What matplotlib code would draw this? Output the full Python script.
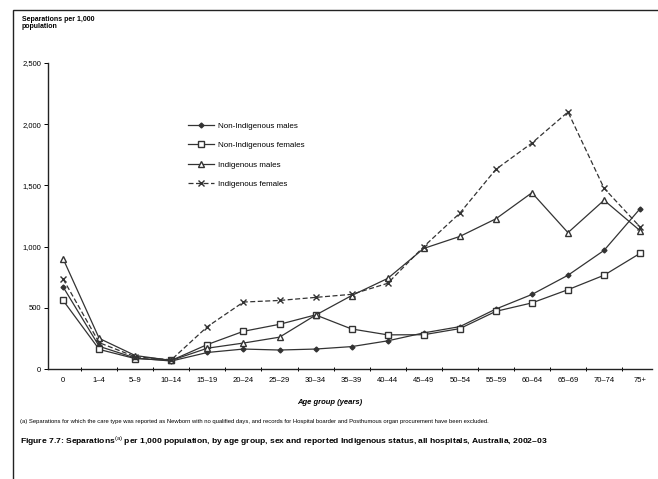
import matplotlib
matplotlib.use("Agg")
import matplotlib.pyplot as plt
from matplotlib.patches import Rectangle

plt.rcParams['font.family'] = ['Liberation Sans', 'DejaVu Sans']
plt.rcParams['mathtext.fontset'] = 'custom'
plt.rcParams['mathtext.rm'] = 'Liberation Sans'

# Age groups and separations per 1,000 population
age_groups = ['0', '1–4', '5–9', '10–14', '15–19', '20–24', '25–29', '30–34', '35–39',
              '40–44', '45–49', '50–54', '55–59', '60–64', '65–69', '70–74', '75+']

non_ind_males = [670, 185, 90, 65, 135, 163, 155, 163, 183, 230, 295, 346, 490, 609, 766, 969, 1310]
non_ind_females = [560, 160, 85, 70, 200, 308, 365, 442, 327, 279, 280, 330, 471, 540, 648, 766, 945]
ind_males = [900, 250, 110, 70, 170, 212, 260, 440, 600, 740, 985, 1083, 1227, 1440, 1114, 1379, 1130]
ind_females = [735, 215, 100, 75, 346, 547, 560, 585, 610, 700, 1000, 1273, 1631, 1846, 2100, 1477, 1160]

y_ticks = [0, 500, 1000, 1500, 2000, 2500]
y_tick_labels = ['0', '500', '1,000', '1,500', '2,000', '2,500']

W, H = 658, 479
fig = plt.figure(figsize=(W / 100, H / 100), dpi=100)

# outer frame of the scanned page
fig.patches.append(Rectangle((13 / W, -0.1), 1.2, 1 - 10 / H + 0.1, transform=fig.transFigure,
                             fill=False, edgecolor='#222222', linewidth=1.0))

ax = fig.add_axes([48 / W, (H - 369) / H, (652 - 48) / W, (369 - 63) / H])
x = list(range(len(age_groups)))
lc = '#333333'

ax.plot(x, non_ind_males, color=lc, linewidth=0.9, marker='D', markersize=2.5,
        markerfacecolor=lc, label='Non-Indigenous males')
ax.plot(x, non_ind_females, color=lc, linewidth=0.9, marker='s', markersize=4,
        markerfacecolor='white', label='Non-Indigenous females')
ax.plot(x, ind_males, color=lc, linewidth=0.9, marker='^', markersize=4,
        markerfacecolor='white', label='Indigenous males')
ax.plot(x, ind_females, color=lc, linewidth=0.9, linestyle=(0, (4, 2)), marker='x',
        markersize=4, label='Indigenous females')

ax.set_xlim(-0.42, 16.33)
ax.set_ylim(0, 2500)
ax.set_xticks(x)
ax.set_xticklabels(age_groups, fontsize=5.5)
ax.set_xticks([i + 0.5 for i in x[:-1]], minor=True)
ax.tick_params(axis='x', which='major', length=0, pad=6)
ax.tick_params(axis='x', which='minor', length=3, direction='inout', width=0.7)
ax.set_yticks(y_ticks)
ax.set_yticklabels(y_tick_labels, fontsize=5.5)
ax.tick_params(axis='y', length=3, width=0.7, pad=2)

for s in ['top', 'right']:
    ax.spines[s].set_visible(False)
for s in ['left', 'bottom']:
    ax.spines[s].set_linewidth(1.0)
    ax.spines[s].set_color('#222222')

ax.legend(loc='upper left', bbox_to_anchor=(0.22, 0.83), frameon=False, fontsize=5.8,
          handlelength=3.2, labelspacing=1.45, handletextpad=0.5)

fig.text(22 / W, 1 - 16 / H, 'Separations per 1,000\npopulation', fontsize=5, fontweight='bold',
         va='top', ha='left', linespacing=1.0)
fig.text(330 / W, 1 - 402 / H, 'Age group (years)', fontsize=5.5, fontweight='bold',
         style='italic', ha='center', va='center')
fig.text(20 / W, 1 - 421 / H,
         '(a) Separations for which the care type was reported as Newborn with no qualified days, '
         'and records for Hospital boarder and Posthumous organ procurement have been excluded.',
         fontsize=4.2, ha='left', va='center')
fig.text(20 / W, 1 - 441 / H,
         'Figure 7.7: Separations$^{\\rm (a)}$ per 1,000 population, by age group, sex and reported '
         'Indigenous status, all hospitals, Australia, 2002–03',
         fontsize=6.1, fontweight='bold', ha='left', va='center')

fig.savefig('out.png', dpi=100)
